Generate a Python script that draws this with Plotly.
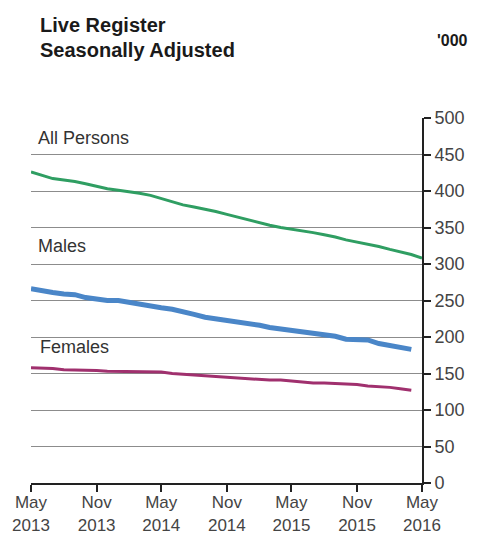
import plotly.graph_objects as go
import pandas as pd

# Data ('000), monthly seasonally adjusted
all_dates = pd.date_range("2013-05-01", "2016-05-01", freq="MS")
sub_dates = pd.date_range("2013-05-01", "2016-04-01", freq="MS")

all_persons = [426, 421, 417, 415, 413, 410, 406, 403, 401, 399, 397, 394,
               390, 385, 381, 378, 375, 372, 368, 364, 360, 356, 353, 350,
               348, 345, 343, 340, 337, 333, 330, 327, 324, 320, 317, 313, 308]
males = [266, 263, 261, 259, 258, 254, 252, 250, 250, 247, 245, 243,
         240, 238, 235, 231, 227, 225, 223, 221, 218, 216, 213, 211,
         208, 206, 204, 203, 201, 197, 196, 196, 191, 188, 185, 183]
females = [158, 158, 157, 155, 155, 155, 154, 153, 153, 153, 153, 152,
           152, 150, 149, 148, 147, 146, 144, 143, 142, 141, 141, 141,
           140, 138, 137, 137, 136, 136, 135, 133, 132, 131, 129, 127]

tick_dates = ["2013-05-01", "2013-11-01", "2014-05-01", "2014-11-01",
              "2015-05-01", "2015-11-01", "2016-05-01"]
tick_text = ["May<br>2013", "Nov<br>2013", "May<br>2014", "Nov<br>2014",
             "May<br>2015", "Nov<br>2015", "May<br>2016"]
y_ticks = list(range(0, 501, 50))

FONT = "Liberation Sans, Arial, sans-serif"

fig = go.Figure()
fig.add_trace(go.Scatter(x=all_dates, y=all_persons, mode="lines",
                         line=dict(color="#2f9e62", width=3), name="All Persons"))
fig.add_trace(go.Scatter(x=sub_dates, y=males, mode="lines",
                         line=dict(color="#4a86c8", width=5), name="Males"))
fig.add_trace(go.Scatter(x=sub_dates, y=females, mode="lines",
                         line=dict(color="#a0306e", width=3), name="Females"))

OFF = 8  # page body margin
W, H = 478 - OFF, 533 - OFF
PL, PR, PT, PB = 31, 422, 118, 483  # plot area in page pixels
L, T = PL - OFF, PT - OFF
R = W - (PR - OFF)
B = H - (PB - OFF)
pw, ph = PR - PL, PB - PT

def py(pix):
    return (PB - pix) / ph

def px(pix):
    return (pix - PL) / pw

annots = []
for txt, yy in [("Live Register", 25), ("Seasonally Adjusted", 50)]:
    annots.append(dict(text="<b>" + txt + "</b>", x=px(38), y=py(yy), xref="paper", yref="paper",
                       xanchor="left", yanchor="middle", showarrow=False,
                       font=dict(size=20, color="#1a1a1a", family=FONT)))
annots.append(dict(text="<b>'000</b>", x=px(470), y=py(40), xref="paper", yref="paper",
                   xanchor="right", yanchor="middle", showarrow=False,
                   font=dict(size=16, color="#1a1a1a", family=FONT)))
for txt, xx, yy in [("All Persons", 36, 138), ("Males", 36, 246), ("Females", 38, 347)]:
    annots.append(dict(text=txt, x=px(xx), y=py(yy), xref="paper", yref="paper",
                       xanchor="left", yanchor="middle", showarrow=False,
                       font=dict(size=18, color="#333333", family=FONT)))

fig.update_layout(
    width=W, height=H,
    margin=dict(l=L, r=R, t=T, b=B, autoexpand=False),
    paper_bgcolor="white", plot_bgcolor="white",
    showlegend=False,
    font=dict(family=FONT, size=18, color="#333333"),
    annotations=annots,
    xaxis=dict(range=["2013-05-01", "2016-05-01"], tickvals=tick_dates, ticktext=tick_text,
               showgrid=False, showline=True, linecolor="#222222", linewidth=2,
               ticks="outside", ticklen=7, tickwidth=2, tickcolor="#222222", automargin=False,
               ticklabelstandoff=-4,
               tickfont=dict(size=17, color="#444444", family=FONT), zeroline=False),
    yaxis=dict(range=[0, 500], tickvals=y_ticks, side="right", automargin=False,
               showgrid=True, gridcolor="#8c8c8c", gridwidth=1,
               showline=True, linecolor="#222222", linewidth=2,
               ticks="outside", ticklen=7, tickwidth=2, tickcolor="#222222",
               tickfont=dict(size=18, color="#444444", family=FONT), zeroline=False),
)

fig.write_html("out.html")
